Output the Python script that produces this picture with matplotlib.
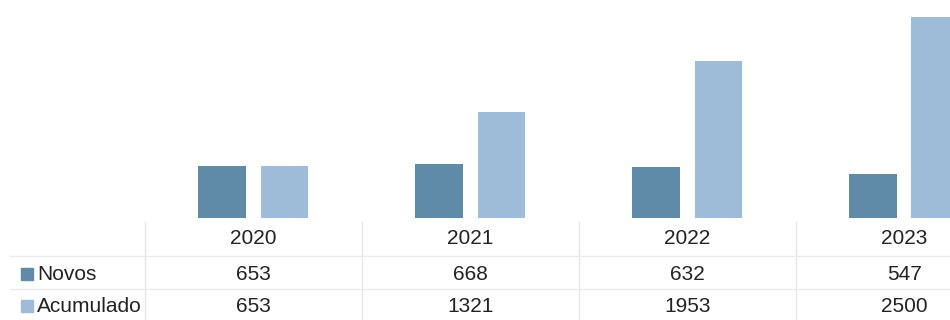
import matplotlib
matplotlib.use("Agg")
import matplotlib.pyplot as plt
import matplotlib.transforms as mtransforms
import numpy as np

plt.rcParams['font.family'] = ['Liberation Sans', 'DejaVu Sans']

years = ['2020', '2021', '2022', '2023']
novos = [653, 668, 632, 547]
acumulado = [653, 1321, 1953, 2500]
series_names = ['Novos', 'Acumulado']
colors = ['#5f8aa8', '#9ebbd8']

W, H = 950, 320
fig = plt.figure(figsize=(W / 100, H / 100), dpi=100)
ax = fig.add_axes([145 / W, 102 / H, 805 / W, 218 / H])

x = np.arange(len(years))
off = 0.143
width = 0.221
ax.bar(x - off, novos, width, color=colors[0])
ax.bar(x + off, acumulado, width, color=colors[1])

ax.set_xlim(-0.5, 3.21)
ax.set_ylim(0, 2715)
ax.axis('off')

# data table below the bars
tr = mtransforms.blended_transform_factory(ax.transData, fig.transFigure)
fs = 15
row_y = [1 - 239 / H, 1 - 274 / H, 1 - 306 / H]
for i, yr in enumerate(years):
    ax.text(i, row_y[0], yr, transform=tr, ha='center', va='center',
            fontsize=fs, color='#222222', clip_on=False)
    ax.text(i, row_y[1], str(novos[i]), transform=tr, ha='center', va='center',
            fontsize=fs, color='#222222', clip_on=False)
    ax.text(i, row_y[2], str(acumulado[i]), transform=tr, ha='center', va='center',
            fontsize=fs, color='#222222', clip_on=False)

for name, c, yy in zip(series_names, colors, row_y[1:]):
    fig.patches.append(plt.Rectangle((21 / W, yy - 6 / H), 12 / W, 12 / H,
                                     transform=fig.transFigure, color=c))
    fig.text(37 / W, yy, name, ha='left', va='center', fontsize=fs, color='#222222')

# faint table grid
for b in [-0.5, 0.5, 1.5, 2.5]:
    ax.plot([b, b], [1 - 222 / H, 0], transform=tr, color='#e6e6e6', lw=1, clip_on=False)
for yy in [256, 289]:
    fig.add_artist(plt.Line2D([10 / W, 1], [1 - yy / H, 1 - yy / H],
                              transform=fig.transFigure, color='#ececec', lw=1))

fig.savefig('out.png', dpi=100)
